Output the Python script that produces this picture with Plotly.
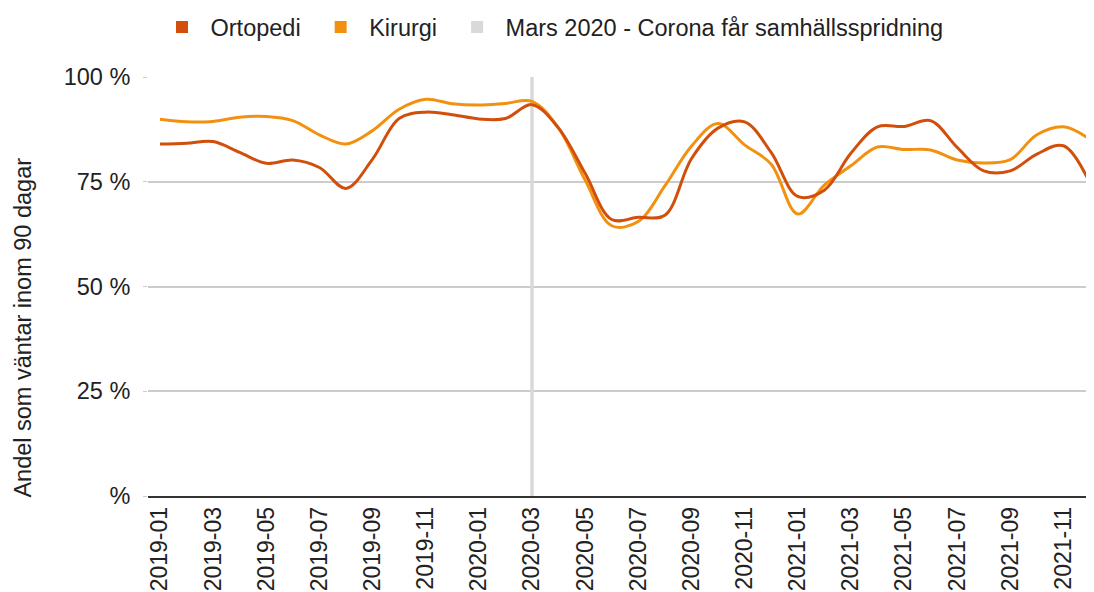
import plotly.graph_objects as go

months = [f"{y}-{m:02d}" for y in (2019, 2020, 2021) for m in range(1, 13)]
ortopedi = [84.0, 84.2, 84.6, 82.0, 79.4, 80.2, 78.4, 73.4, 80.4, 90.1, 91.6, 91.0,
            90.0, 90.1, 93.4, 87.8, 77.0, 66.0, 66.5, 67.0, 80.5, 87.8, 89.3, 82.0,
            71.5, 73.0, 81.8, 88.1, 88.2, 89.6, 83.2, 77.6, 77.6, 81.6, 83.6, 74.6]
kirurgi = [89.9, 89.3, 89.4, 90.4, 90.6, 89.6, 86.2, 84.0, 87.2, 92.3, 94.7, 93.6,
           93.3, 93.7, 94.2, 87.8, 75.4, 64.5, 65.5, 74.0, 83.5, 88.9, 83.8, 79.2,
           67.3, 74.2, 78.8, 83.3, 82.7, 82.6, 80.2, 79.5, 80.3, 86.2, 88.1, 85.1]
corona_month = "2020-03"
corona_y = [0, 100]
y_ticks = [0, 25, 50, 75, 100]
y_ticktext = ["%", "25 %", "50 %", "75 %", "100 %"]
series_names = ["Ortopedi", "Kirurgi", "Mars 2020 - Corona får samhällsspridning"]
y_title = "Andel som väntar inom 90 dagar"

C_ORT = "#d24f0b"
C_KIR = "#f29110"
C_COR = "#d9d9d9"
FONT = "Arial, Liberation Sans, sans-serif"

xi = list(range(len(months)))
ci = months.index(corona_month)

fig = go.Figure()
fig.add_trace(go.Scatter(x=[ci, ci], y=corona_y, mode="lines",
                         line=dict(color=C_COR, width=3.5), showlegend=False, hoverinfo="skip"))
fig.add_trace(go.Scatter(x=xi, y=kirurgi, mode="lines", name=series_names[1],
                         line=dict(color=C_KIR, width=3, shape="spline", smoothing=1), showlegend=False))
fig.add_trace(go.Scatter(x=xi, y=ortopedi, mode="lines", name=series_names[0],
                         line=dict(color=C_ORT, width=3, shape="spline", smoothing=1), showlegend=False))

pad = ["\u00a0", "\u00a0", ""]
for name, col, p in zip(series_names, [C_ORT, C_KIR, C_COR], pad):
    fig.add_trace(go.Scatter(x=[None], y=[None], mode="markers", name=name + p,
                             marker=dict(symbol="square", size=17, color=col)))

# page body has an 8px margin, so the figure is sized to the visible area
fig.update_layout(
    width=1086, height=584,
    margin=dict(l=140, r=0, t=69, b=96, autoexpand=False),
    plot_bgcolor="white", paper_bgcolor="white",
    font=dict(family=FONT, size=23, color="#222222"),
    showlegend=True,
    legend=dict(orientation="h", xref="container", yref="container", x=0.5, xanchor="center",
                y=0.967, yanchor="middle", font=dict(size=23.5, color="#222222"),
                itemwidth=47, itemsizing="constant"),
    xaxis=dict(range=[-0.45, 35.15], tickmode="array", tickvals=xi[::2], ticktext=months[::2],
               tickangle=-90, showgrid=False, zeroline=False, showline=True, linecolor="#333333",
               linewidth=1.5, ticks="", automargin=False, tickfont=dict(size=23, color="#222222")),
    yaxis=dict(range=[0, 100], tickmode="array", tickvals=y_ticks, ticktext=y_ticktext,
               showgrid=True, gridcolor="#cccccc", gridwidth=1.5, zeroline=False, showline=False,
               ticks="outside", ticklen=4, tickcolor="#cccccc", ticklabelstandoff=8, automargin=False,
               tickfont=dict(size=23.5, color="#222222")),
    annotations=[dict(text=y_title, textangle=-90, xref="paper", yref="paper",
                      x=-0.1321, y=0.402, xanchor="center", yanchor="middle", showarrow=False,
                      font=dict(size=23.5, color="#222222"))],
)

fig.write_html("out.html")
